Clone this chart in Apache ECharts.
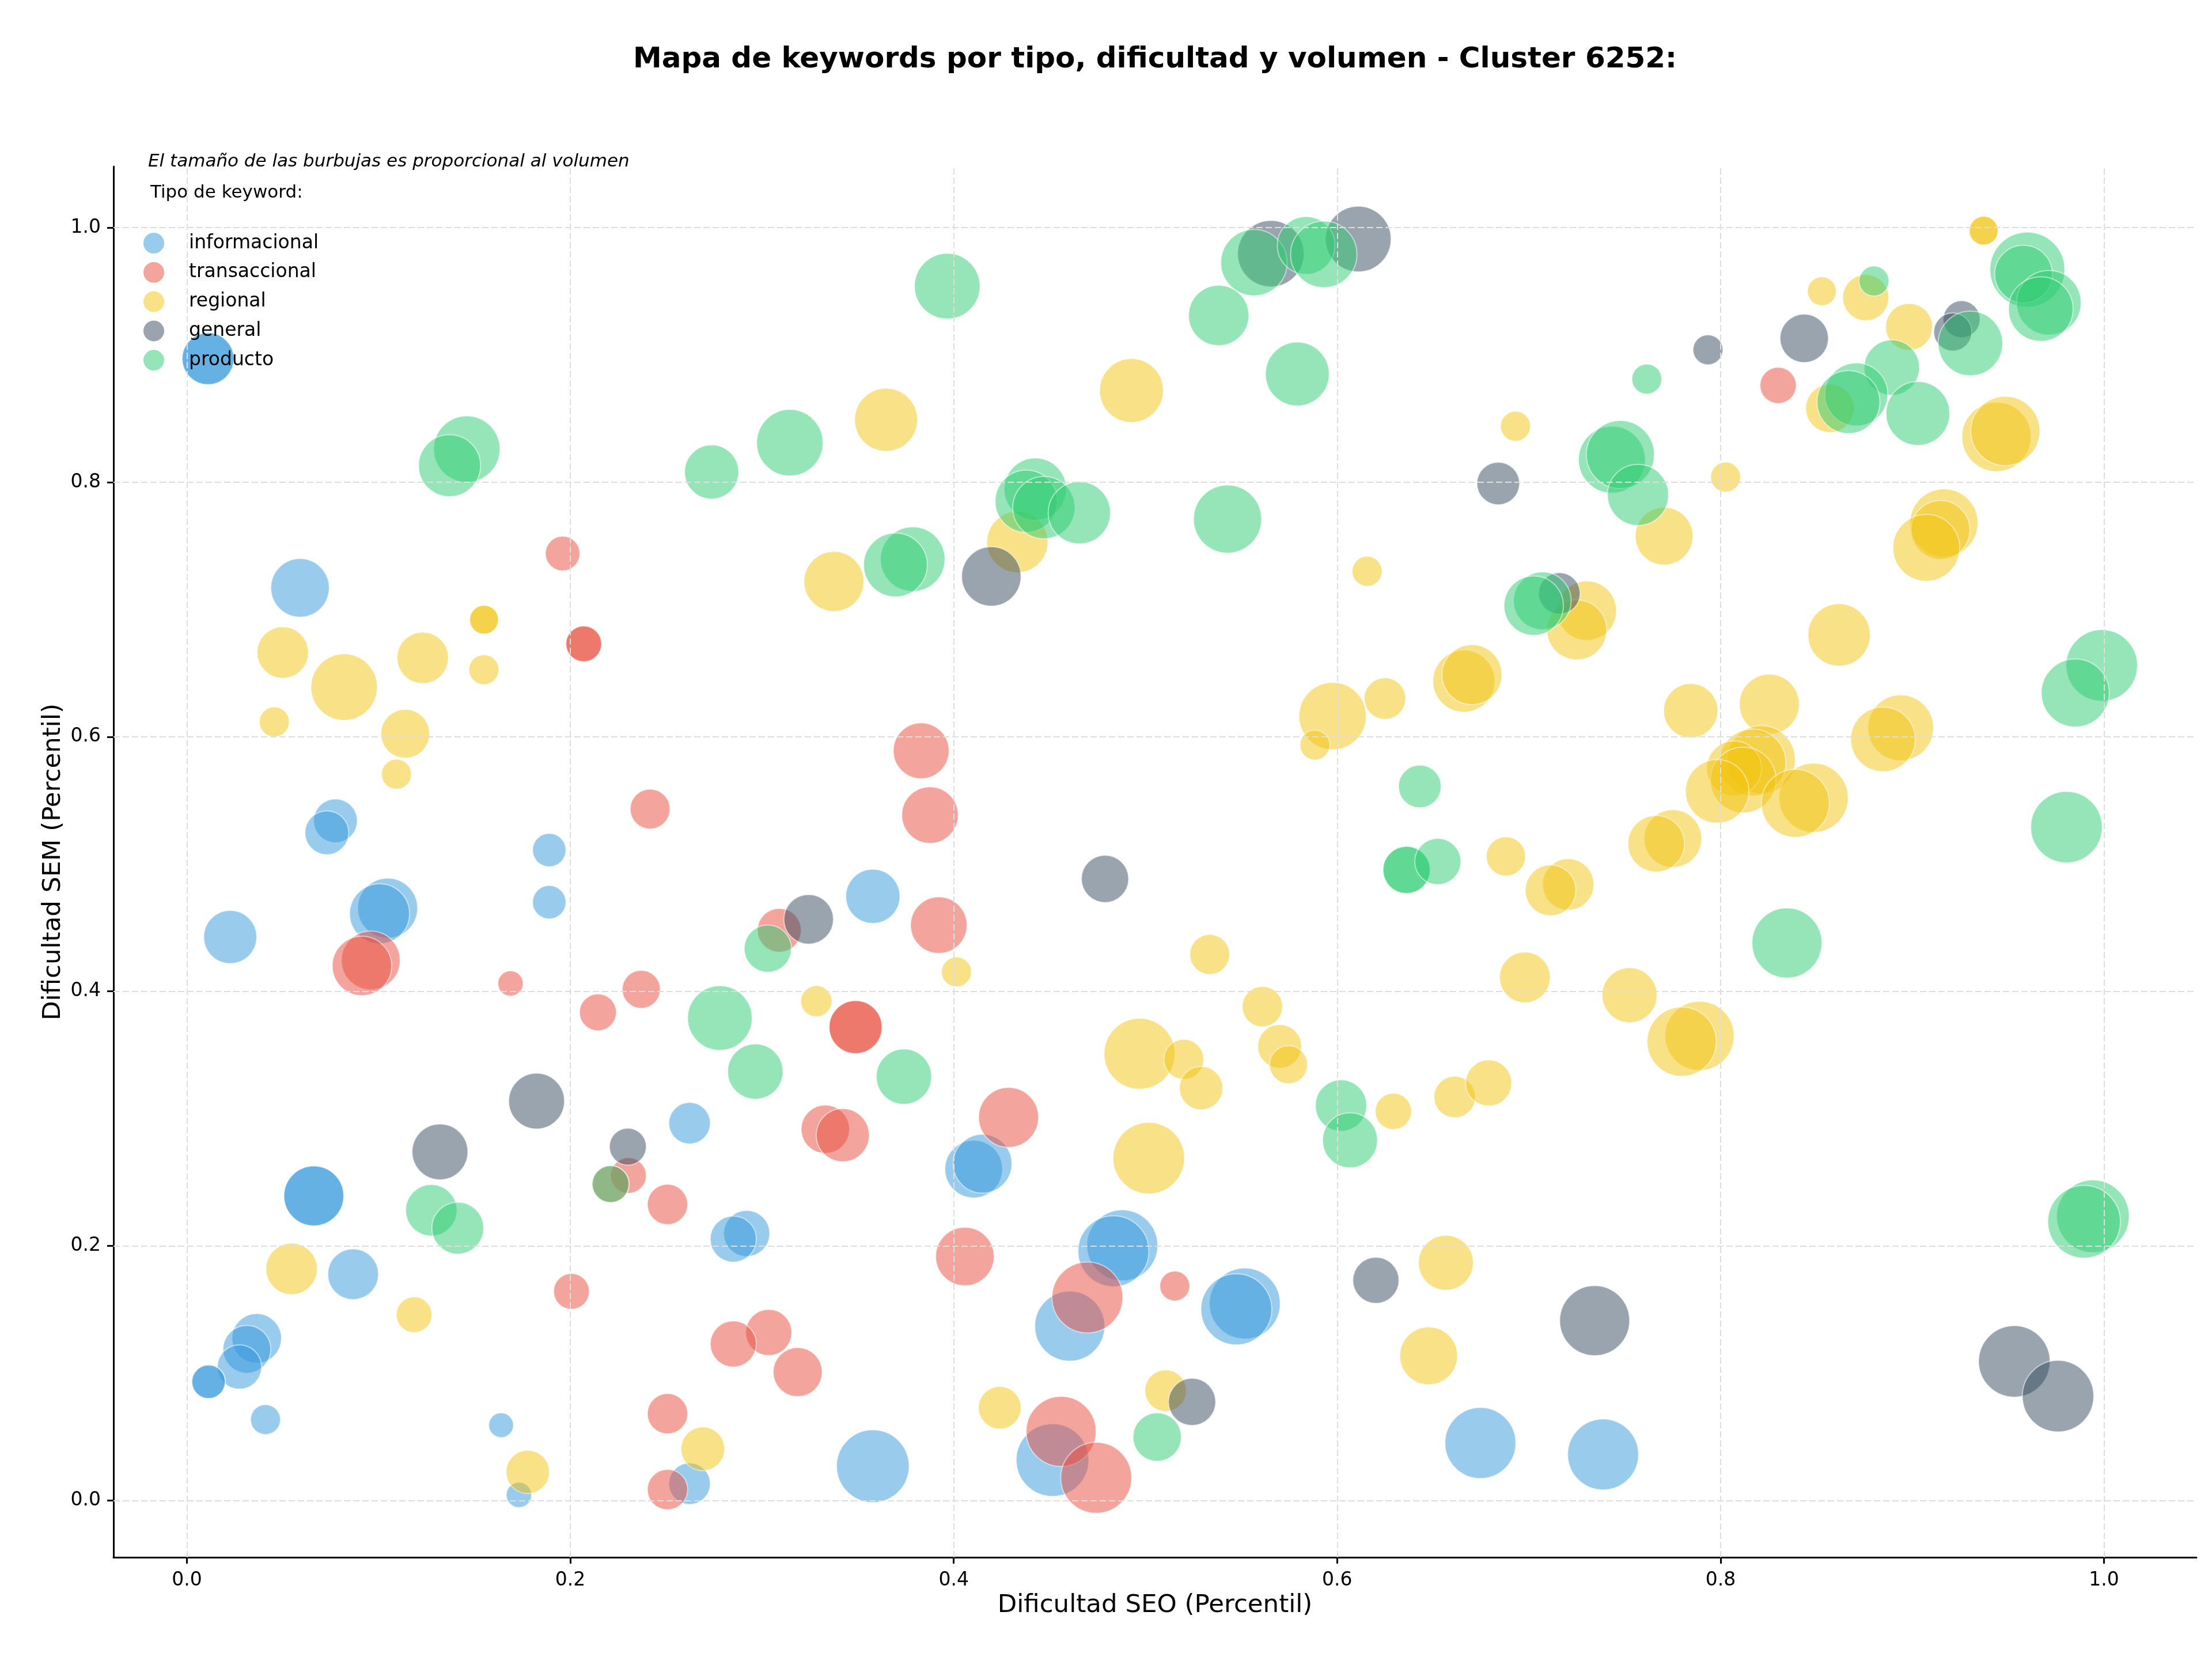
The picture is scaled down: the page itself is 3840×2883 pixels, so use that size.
<!DOCTYPE html>
<html>
<head>
<meta charset="utf-8">
<script src="https://cdn.jsdelivr.net/npm/echarts@6/dist/echarts.min.js"></script>
<style>
html,body{margin:0;padding:0;background:#fff;}
#chart{width:3840px;height:2883px;}
</style>
</head>
<body>
<div id="chart"></div>
<script>
// ---- Data: [dificultad SEO, dificultad SEM, volumen] ----
const tipos = ['informacional', 'transaccional', 'regional', 'general', 'producto'];
const colores = ['#3498DB', '#E74C3C', '#F1C40F', '#34495E', '#2ECC71'];
const ticksX = [0, 0.2, 0.4, 0.6, 0.8, 1.0];
const ticksY = [0, 0.2, 0.4, 0.6, 0.8, 1.0];

const informacional = [
  [0.011, 0.897, 729], [0.011, 0.897, 729], [0.059, 0.717, 925], [0.0775, 0.534, 520],
  [0.073, 0.5246, 520], [0.189, 0.511, 303], [0.189, 0.470, 303], [0.1047, 0.4654, 973],
  [0.1005, 0.461, 973], [0.0226, 0.4427, 762], [0.3578, 0.4747, 795], [0.0662, 0.2393, 973],
  [0.0662, 0.2393, 973], [0.0867, 0.1778, 697], [0.2622, 0.2964, 467], [0.292, 0.2098, 576],
  [0.285, 0.2054, 576], [0.0364, 0.1274, 666], [0.0313, 0.1188, 620], [0.0274, 0.1049, 531],
  [0.0113, 0.0933, 303], [0.0113, 0.0933, 303], [0.041, 0.0636, 243], [0.1639, 0.0592, 166],
  [0.1732, 0.0044, 174], [0.2622, 0.0132, 467], [0.4104, 0.2604, 900], [0.415, 0.2646, 936],
  [0.4879, 0.2005, 1362], [0.4833, 0.1959, 1362], [0.4605, 0.137, 1326], [0.5518, 0.1548, 1362],
  [0.5474, 0.1502, 1362], [0.6747, 0.0452, 1362], [0.4515, 0.0318, 1429], [0.3578, 0.027, 1429],
  [0.7387, 0.0362, 1362]
];

const transaccional = [
  [0.196, 0.744, 324], [0.207, 0.673, 346], [0.207, 0.673, 346], [0.2416, 0.5432, 431],
  [0.0959, 0.4243, 936], [0.0913, 0.420, 955], [0.1688, 0.4062, 174], [0.237, 0.4016, 392],
  [0.2144, 0.3835, 369], [0.309, 0.448, 520], [0.383, 0.589, 843], [0.3876, 0.5385, 864],
  [0.3922, 0.452, 864], [0.3488, 0.3719, 762], [0.3488, 0.3719, 762], [0.2303, 0.2553, 346],
  [0.221, 0.2486, 369], [0.2507, 0.2326, 441], [0.2006, 0.1643, 346], [0.3035, 0.132, 576],
  [0.285, 0.123, 576], [0.3186, 0.1009, 653], [0.2507, 0.0682, 441], [0.2507, 0.0086, 441],
  [0.333, 0.2917, 635], [0.3421, 0.287, 762], [0.4286, 0.301, 973], [0.4058, 0.1917, 925],
  [0.4697, 0.1595, 1362], [0.5153, 0.1685, 243], [0.456, 0.0543, 1326], [0.4743, 0.0179, 1362],
  [0.830, 0.876, 357]
];

const regional = [
  [0.3647, 0.849, 1073], [0.4927, 0.872, 1101], [0.4332, 0.753, 1011], [0.3375, 0.722, 973],
  [0.6156, 0.730, 243], [0.155, 0.692, 225], [0.155, 0.692, 225], [0.050, 0.6662, 716],
  [0.082, 0.639, 1194], [0.123, 0.662, 716], [0.1549, 0.6527, 243], [0.0456, 0.6117, 243],
  [0.1139, 0.6024, 644], [0.1093, 0.5706, 243], [0.4014, 0.4153, 243], [0.5335, 0.429, 431],
  [0.5976, 0.6163, 1228], [0.5884, 0.5935, 243], [0.6249, 0.630, 467], [0.6661, 0.6437, 1042],
  [0.6703, 0.6488, 973], [0.3283, 0.3923, 262], [0.4969, 0.351, 1362], [0.520, 0.3466, 431],
  [0.529, 0.324, 509], [0.561, 0.388, 441], [0.570, 0.3568, 520], [0.5746, 0.3424, 392],
  [0.6293, 0.3057, 357], [0.6613, 0.317, 467], [0.679, 0.328, 576], [0.5017, 0.269, 1384],
  [0.6567, 0.1868, 816], [0.6477, 0.1137, 900], [0.5105, 0.0863, 467], [0.424, 0.0729, 493],
  [0.0546, 0.182, 716], [0.1185, 0.146, 346], [0.2691, 0.0406, 520], [0.1778, 0.0225, 509],
  [0.9372, 0.9976, 225], [0.9372, 0.9976, 225], [0.8757, 0.945, 576], [0.8528, 0.950, 225],
  [0.8983, 0.922, 596], [0.857, 0.858, 635], [0.9439, 0.8356, 1296], [0.9485, 0.8402, 1296],
  [0.693, 0.844, 243], [0.8026, 0.804, 243], [0.7705, 0.7576, 900], [0.9165, 0.768, 1253],
  [0.9147, 0.7625, 936], [0.9073, 0.7485, 1211], [0.7302, 0.699, 955], [0.725, 0.684, 973],
  [0.8618, 0.680, 1050], [0.7844, 0.6205, 795], [0.8254, 0.6256, 973], [0.8212, 0.582, 1253],
  [0.8166, 0.5798, 1211], [0.807, 0.5752, 816], [0.8118, 0.566, 1170], [0.7982, 0.5571, 1089],
  [0.8485, 0.552, 1296], [0.839, 0.5478, 1253], [0.8939, 0.607, 1170], [0.8847, 0.598, 1129],
  [0.7751, 0.520, 900], [0.7664, 0.516, 864], [0.688, 0.506, 416], [0.7205, 0.484, 716],
  [0.7113, 0.4794, 697], [0.6979, 0.411, 697], [0.7525, 0.397, 816], [0.789, 0.365, 1296],
  [0.7797, 0.3605, 1296]
];

const general = [
  [0.5654, 0.9795, 1194], [0.611, 0.991, 1165], [0.4196, 0.726, 955], [0.684, 0.799, 493],
  [0.8436, 0.913, 635], [0.7934, 0.904, 243], [0.9257, 0.928, 369], [0.9211, 0.918, 392],
  [0.7159, 0.7126, 467], [0.4789, 0.4884, 605], [0.3243, 0.4566, 666], [0.1824, 0.3138, 843],
  [0.132, 0.2739, 843], [0.230, 0.278, 369], [0.6202, 0.173, 576], [0.5243, 0.0775, 605],
  [0.7343, 0.1413, 1326], [0.9532, 0.1093, 1384], [0.976, 0.082, 1384]
];

const producto = [
  [0.146, 0.826, 1194], [0.137, 0.813, 1042], [0.2737, 0.808, 792], [0.3145, 0.831, 1194],
  [0.3966, 0.954, 1165], [0.5566, 0.9725, 1194], [0.5838, 0.986, 900], [0.593, 0.979, 1194],
  [0.5382, 0.931, 985], [0.5792, 0.885, 1101], [0.4425, 0.7945, 1050], [0.4378, 0.785, 1050],
  [0.447, 0.780, 1050], [0.4655, 0.776, 1050], [0.3786, 0.7395, 1129], [0.3696, 0.735, 1101],
  [0.5428, 0.771, 1253], [0.960, 0.967, 1521], [0.958, 0.9635, 900], [0.9712, 0.941, 1129],
  [0.967, 0.936, 1129], [0.880, 0.958, 243], [0.7615, 0.881, 243], [0.9303, 0.909, 1129],
  [0.8893, 0.890, 829], [0.8708, 0.869, 1073], [0.8667, 0.863, 1073], [0.9029, 0.854, 1101],
  [0.7433, 0.8177, 1211], [0.7477, 0.8217, 1253], [0.7569, 0.790, 1011], [0.707, 0.7068, 900],
  [0.7025, 0.703, 955], [0.9988, 0.656, 1384], [0.985, 0.6344, 1253], [0.9804, 0.529, 1384],
  [0.8346, 0.438, 1326], [0.6431, 0.561, 493], [0.6362, 0.4954, 605], [0.6362, 0.4954, 605],
  [0.6525, 0.502, 576], [0.303, 0.4336, 605], [0.278, 0.379, 1129], [0.2965, 0.337, 829],
  [0.374, 0.333, 829], [0.1275, 0.228, 716], [0.1413, 0.214, 729], [0.221, 0.2486, 369],
  [0.602, 0.3103, 716], [0.6067, 0.283, 816], [0.5061, 0.0499, 635], [0.9942, 0.2233, 1429],
  [0.9896, 0.219, 1429]
];

const datosPorTipo = [informacional, transaccional, regional, general, producto];

// ---- Chart ----
const FONT = '"DejaVu Sans", "Liberation Sans", sans-serif';
const PX_PER_PT = 240 / 72;
const chart = echarts.init(document.getElementById('chart'), null, {renderer: 'canvas', width: 3840, height: 2883});

const gridLineStyle = {color: '#dedede', width: 2, type: [11, 5]};

const series = tipos.map((t, i) => ({
  type: 'scatter',
  name: t,
  data: datosPorTipo[i],
  symbol: 'circle',
  symbolSize: v => Math.sqrt(v[2]) * PX_PER_PT,
  itemStyle: {color: colores[i], opacity: 0.5, borderColor: '#ffffff', borderWidth: 2},
  emphasis: {disabled: true},
  z: 3
}));

series.unshift({
  type: 'scatter',
  name: '_grid',
  data: [],
  silent: true,
  z: 1,
  markLine: {
    silent: true,
    animation: false,
    symbol: ['none', 'none'],
    label: {show: false},
    emphasis: {disabled: true},
    lineStyle: gridLineStyle,
    data: [...ticksX.map(v => ({xAxis: v})), ...ticksY.map(v => ({yAxis: v}))]
  }
});

const axisCommon = {
  type: 'value',
  axisLine: {show: true, onZero: false, lineStyle: {color: '#000', width: 3}},
  splitLine: {show: false},
  axisLabel: {fontSize: 33, color: '#000', fontFamily: FONT, formatter: v => v.toFixed(1)},
  axisTick: {show: true, length: 11, lineStyle: {color: '#000', width: 3}}
};

const option = {
  animation: false,
  backgroundColor: '#ffffff',
  grid: {left: 197, right: 27, top: 289, bottom: 180, containLabel: false},
  xAxis: Object.assign({}, axisCommon, {
    min: -0.0383, max: 1.0482,
    axisLabel: Object.assign({}, axisCommon.axisLabel, {margin: 24, customValues: ticksX}),
    axisTick: Object.assign({}, axisCommon.axisTick, {customValues: ticksX})
  }),
  yAxis: Object.assign({}, axisCommon, {
    min: -0.0446, max: 1.048,
    axisLabel: Object.assign({}, axisCommon.axisLabel, {margin: 22, customValues: ticksY}),
    axisTick: Object.assign({}, axisCommon.axisTick, {customValues: ticksY})
  }),
  legend: {
    data: tipos,
    orient: 'vertical',
    left: 244,
    top: 399,
    itemWidth: 36,
    itemHeight: 36,
    itemGap: 14.8,
    icon: 'circle',
    selectedMode: false,
    itemStyle: {opacity: 0.5, borderWidth: 0},
    textStyle: {fontSize: 33, color: '#000', fontFamily: FONT, padding: [0, 0, 0, 38]}
  },
  graphic: [
    {type: 'text', x: 2005, y: 104, silent: true,
     style: {text: 'Mapa de keywords por tipo, dificultad y volumen - Cluster 6252:', font: 'bold 50px ' + FONT, fill: '#000', align: 'center', verticalAlign: 'middle'}},
    {type: 'text', x: 257, y: 281, silent: true,
     style: {text: 'El tamaño de las burbujas es proporcional al volumen', font: 'italic 31px ' + FONT, fill: '#000', align: 'left', verticalAlign: 'middle'}},
    {type: 'text', x: 261, y: 335, silent: true,
     style: {text: 'Tipo de keyword:', font: '31px ' + FONT, fill: '#000', align: 'left', verticalAlign: 'middle'}},
    {type: 'text', x: 2005, y: 2787, silent: true,
     style: {text: 'Dificultad SEO (Percentil)', font: '43.5px ' + FONT, fill: '#000', align: 'center', verticalAlign: 'middle'}},
    {type: 'text', x: 93, y: 1496, rotation: Math.PI / 2, silent: true,
     style: {text: 'Dificultad SEM (Percentil)', font: '43.5px ' + FONT, fill: '#000', align: 'center', verticalAlign: 'middle'}}
  ],
  series: series
};

chart.setOption(option);
</script>
</body>
</html>
